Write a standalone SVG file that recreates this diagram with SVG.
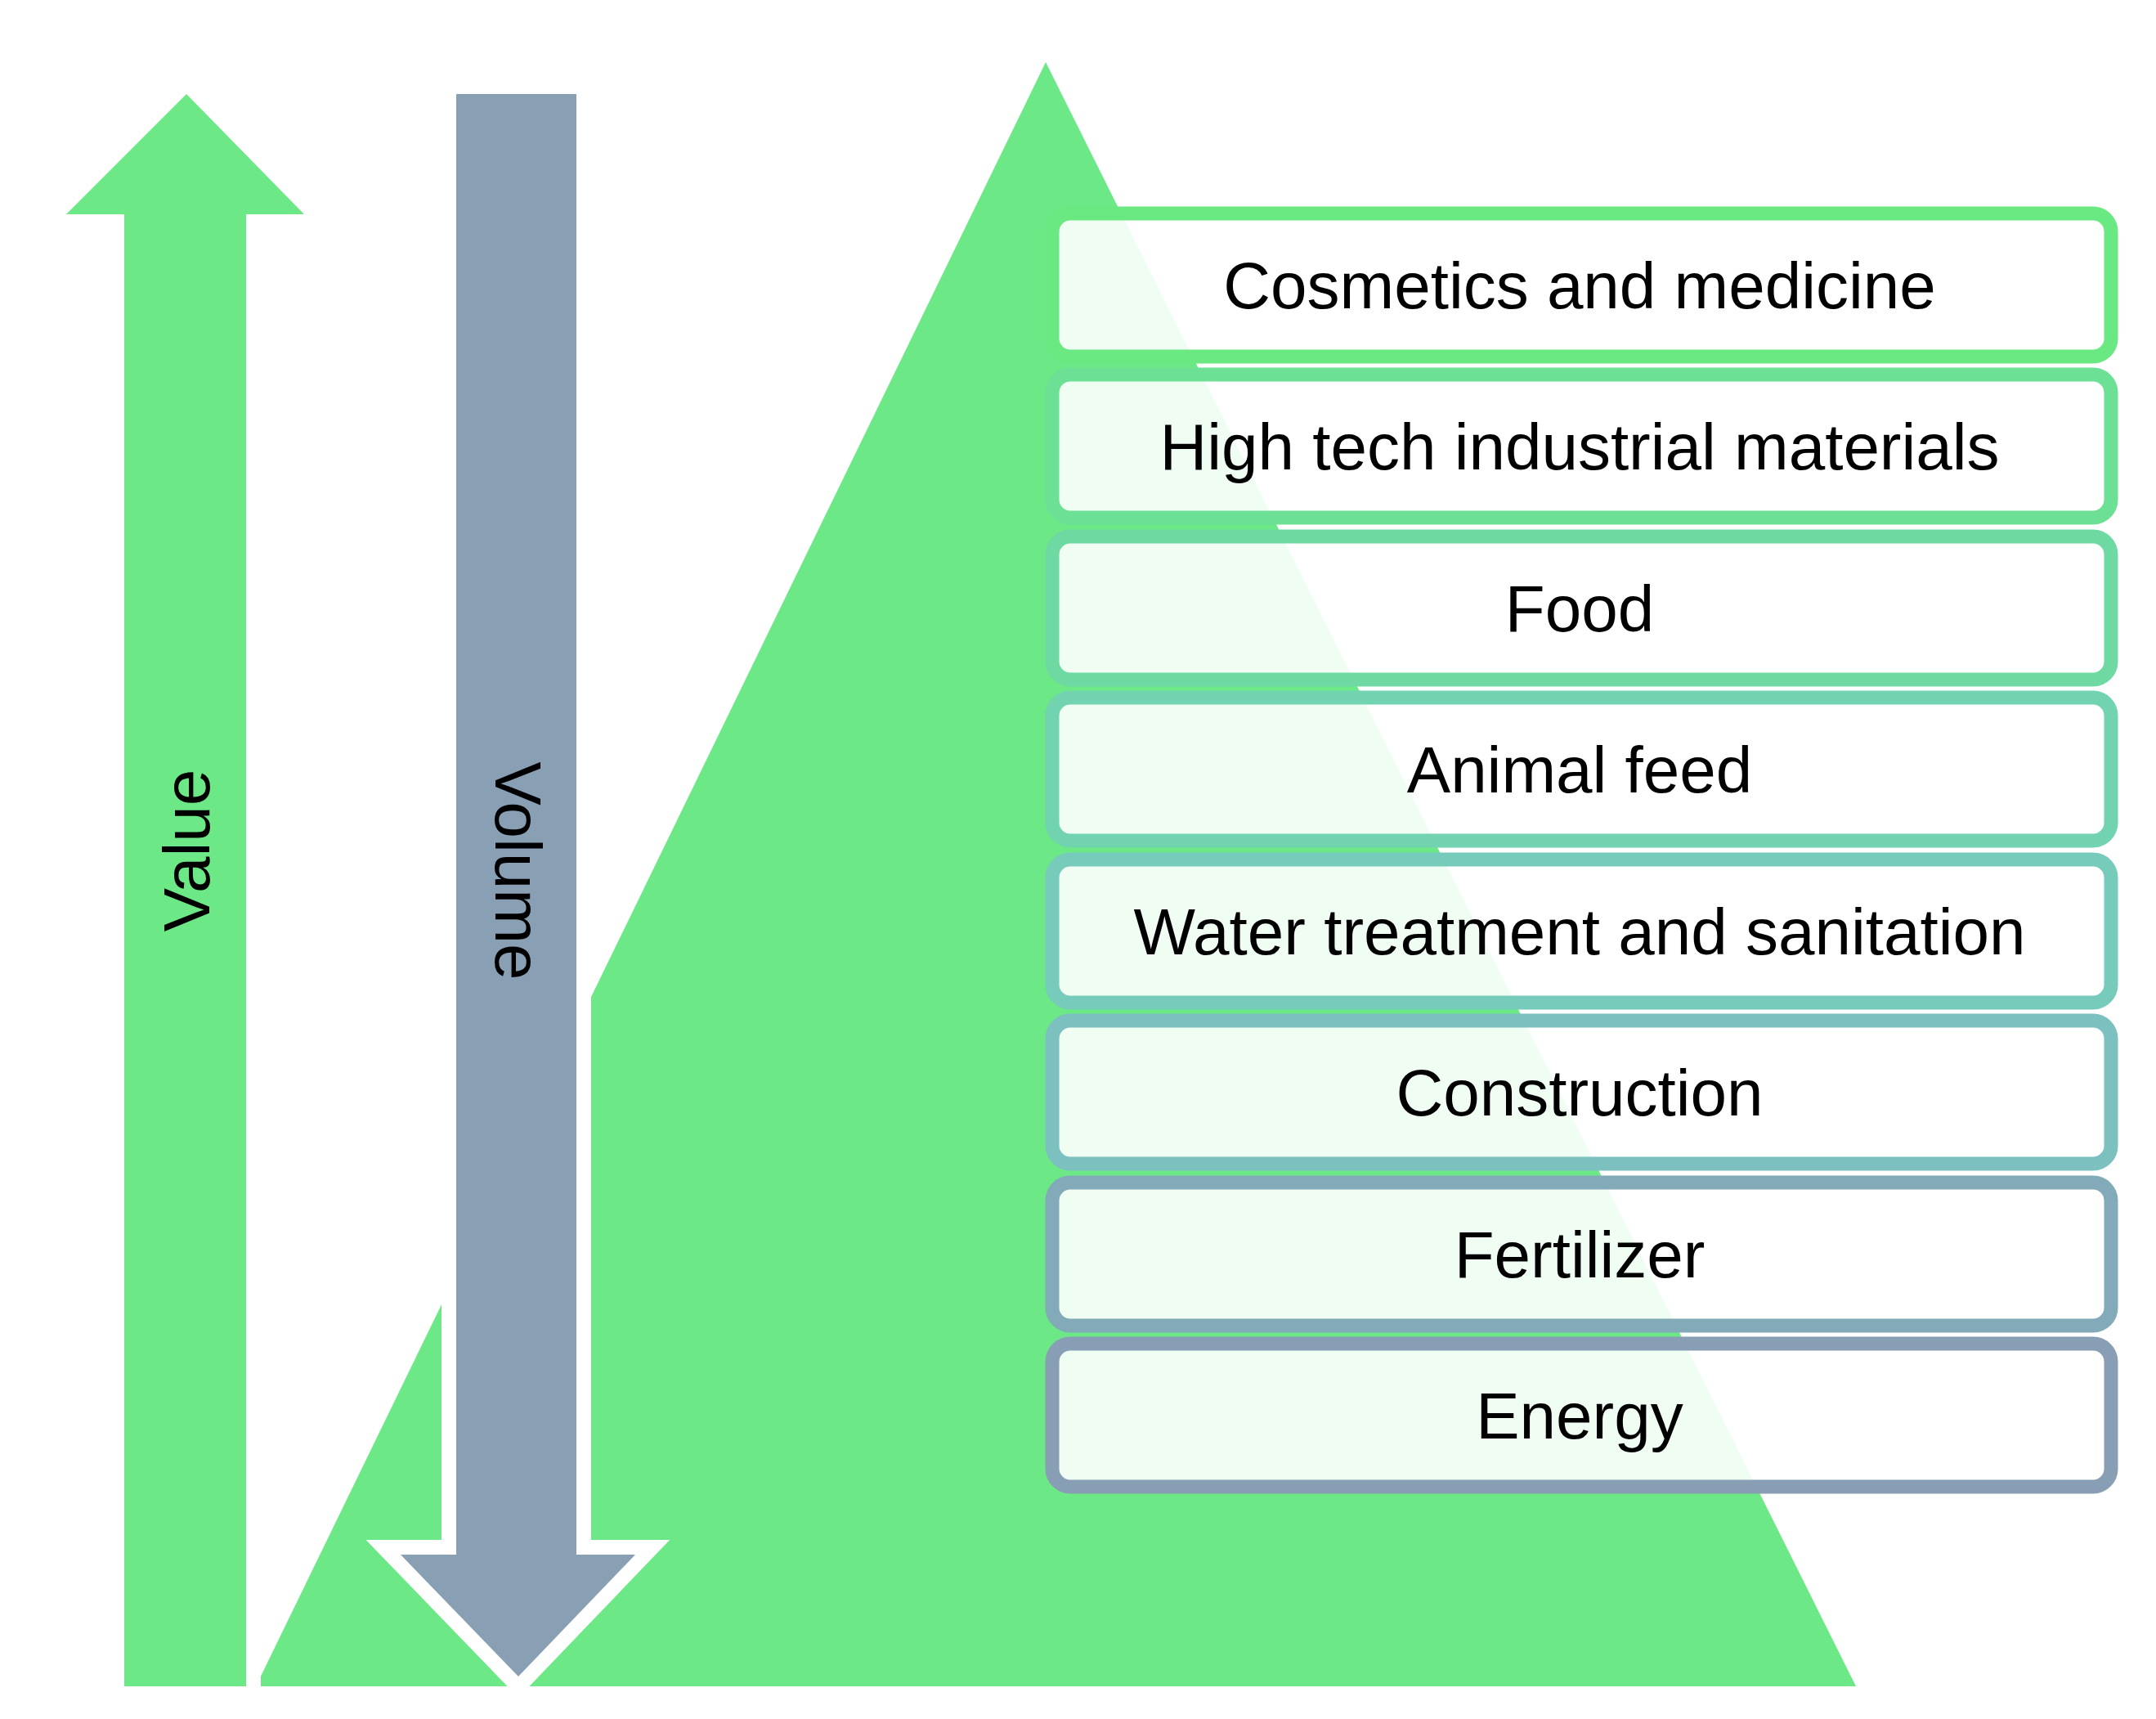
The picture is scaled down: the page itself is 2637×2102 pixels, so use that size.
<svg xmlns="http://www.w3.org/2000/svg" width="2637" height="2102" viewBox="0 0 2637 2102">
<style>
.lbl{font-family:"Liberation Sans",Arial,sans-serif;font-size:80px;fill:#000;text-anchor:middle}
.box{fill:#fff;fill-opacity:0.9;stroke-width:17}
.arr{stroke:#fff;stroke-width:36;paint-order:stroke;stroke-linejoin:miter}
</style>
<rect width="2637" height="2102" fill="#fff"/>
<g id="pyramid"><polygon points="1279,76 2270,2062 313,2062" fill="#6ce886"/></g>
<g id="value-arrow">
<polygon class="arr" fill="#6ce886" points="228,115 372,262 301,262 301,2062 152,2062 152,262 81,262"/>
<text class="lbl" transform="translate(256,1040) rotate(-90)">Value</text>
</g>
<g id="volume-arrow">
<polygon class="arr" fill="#889fb4" points="558,115 705,115 705,1901 777,1901 634,2050 490,1901 558,1901"/>
<text class="lbl" transform="translate(606,1065) rotate(90)">Volume</text>
</g>
<g id="boxes">
<g id="b1"><rect class="box" x="1287" y="261" width="1295" height="175" rx="22" stroke="#6ae882"/><text class="lbl" x="1932" y="377">Cosmetics and medicine</text></g>
<g id="b2"><rect class="box" x="1287" y="458" width="1295" height="175" rx="22" stroke="#6ce094"/><text class="lbl" x="1932" y="574">High tech industrial  materials</text></g>
<g id="b3"><rect class="box" x="1287" y="656" width="1295" height="175" rx="22" stroke="#6ed9a2"/><text class="lbl" x="1932" y="772">Food</text></g>
<g id="b4"><rect class="box" x="1287" y="853" width="1295" height="175" rx="22" stroke="#72d3b0"/><text class="lbl" x="1932" y="969">Animal feed</text></g>
<g id="b5"><rect class="box" x="1287" y="1051" width="1295" height="175" rx="22" stroke="#76cbba"/><text class="lbl" x="1932" y="1167">Water treatment and sanitation</text></g>
<g id="b6"><rect class="box" x="1287" y="1248" width="1295" height="175" rx="22" stroke="#7cc0c0"/><text class="lbl" x="1932" y="1364">Construction</text></g>
<g id="b7"><rect class="box" x="1287" y="1446" width="1295" height="175" rx="22" stroke="#82aab8"/><text class="lbl" x="1932" y="1562">Fertilizer</text></g>
<g id="b8"><rect class="box" x="1287" y="1643" width="1295" height="175" rx="22" stroke="#889eb4"/><text class="lbl" x="1932" y="1759">Energy</text></g>
</g>
<g id="connectors"/>
</svg>
